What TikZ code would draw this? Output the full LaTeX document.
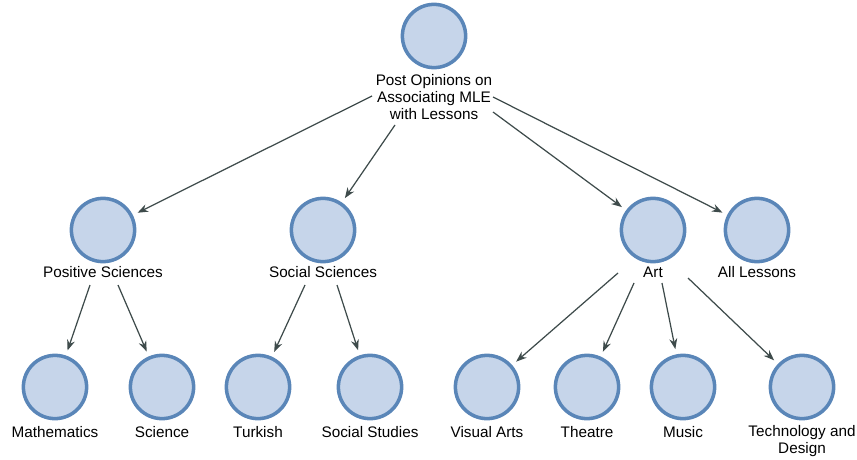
\documentclass[tikz,border=0pt]{standalone}
\usepackage{fontspec}
\setmainfont{Liberation Sans}
\usetikzlibrary{arrows.meta,calc}

\definecolor{ringblue}{HTML}{5A86B8}
\definecolor{discfill}{HTML}{C6D5EA}
\definecolor{linkgray}{HTML}{3E4B4B}

\tikzset{
  topic/.style={circle,draw=ringblue,fill=discfill,line width=2pt,
    minimum size=36pt,inner sep=0pt},
  lbl/.style={align=center,inner sep=0pt,font=\fontsize{8.7}{9.8}\selectfont},
  link/.style={draw=linkgray,line width=0.7pt,
    -{Stealth[length=6pt,width=4.5pt]},shorten >=3pt}
}

\begin{document}
\begin{tikzpicture}[x=0.02cm,y=-0.02cm]
  \useasboundingbox (0,0) rectangle (857,459);

  % root
  \node[topic] (post) at (434,36) {};
  \node[lbl] (postlab) at (434,97) {Post Opinions on\\Associating MLE\\with Lessons};

  % second level
  \node[topic] (pos) at (103,230) {};
  \node[lbl] (poslab) at (103,272) {Positive Sciences};
  \node[topic] (soc) at (323,230) {};
  \node[lbl] (soclab) at (323,272) {Social Sciences};
  \node[topic] (art) at (653,230) {};
  \node[lbl] (artlab) at (653,272) {Art};
  \node[topic] (all) at (757,230) {};
  \node[lbl] (alllab) at (757,272) {All Lessons};

  % third level
  \node[topic] (math) at (55,387) {};
  \node[lbl] at (55,432) {Mathematics};
  \node[topic] (sci) at (162,387) {};
  \node[lbl] at (162,432) {Science};
  \node[topic] (turk) at (258,387) {};
  \node[lbl] at (258,432) {Turkish};
  \node[topic] (sstud) at (370,387) {};
  \node[lbl] at (370,432) {Social Studies};
  \node[topic] (vis) at (487,387) {};
  \node[lbl] at (487,432) {Visual Arts};
  \node[topic] (thea) at (587,387) {};
  \node[lbl] at (587,432) {Theatre};
  \node[topic] (mus) at (683,387) {};
  \node[lbl] at (683,432) {Music};
  \node[topic] (tech) at (802,387) {};
  \node[lbl] at (802,441) {Technology and\\Design};

  % links
  \draw[link] ($(postlab)+(-62,-1)$) -- (pos);
  \draw[link] ($(postlab)+(-39,28)$) -- (soc);
  \draw[link] ($(postlab)+(59,15)$) -- (art);
  \draw[link] ($(postlab)+(59,0)$) -- (all);

  \draw[link] ($(poslab)+(-13,13)$) -- (math);
  \draw[link] ($(poslab)+(15,13)$) -- (sci);
  \draw[link] ($(soclab)+(-18,13)$) -- (turk);
  \draw[link] ($(soclab)+(14,13)$) -- (sstud);

  \draw[link] ($(artlab)+(-35,1)$) -- (vis);
  \draw[link] ($(artlab)+(-19,11)$) -- (thea);
  \draw[link] ($(artlab)+(9,11)$) -- (mus);
  \draw[link] ($(artlab)+(35,6)$) -- (tech);
\end{tikzpicture}
\end{document}
